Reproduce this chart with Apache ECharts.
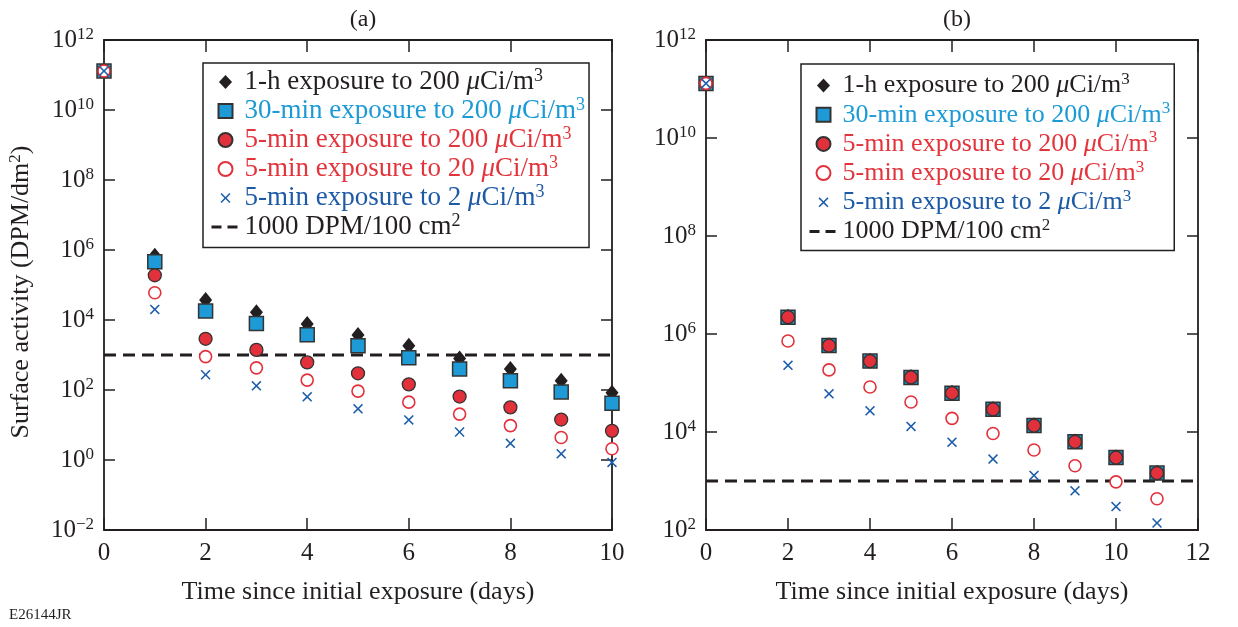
<!DOCTYPE html>
<html>
<head>
<meta charset="utf-8">
<script src="https://cdn.jsdelivr.net/npm/echarts@6/dist/echarts.min.js"></script>
<style>
  html, body { margin: 0; padding: 0; background: #fff; }
  #chart { width: 1238px; height: 627px; }
</style>
</head>
<body>
<div id="chart"></div>
<script>
// ---- data ----------------------------------------------------------------
// (a) days 0..10
const daysA = [0, 1, 2, 3, 4, 5, 6, 7, 8, 9, 10];
const a1h200   = [1.3e11, 6.8e5, 3.7e4, 1.66e4, 7.7e3, 3.7e3, 1.85e3, 800, 400, 185, 83];
const a30m200  = [1.3e11, 4.6e5, 1.8e4, 7.9e3, 3.8e3, 1.85e3, 840, 400, 185, 88, 42];
const a5m200   = [1.3e11, 1.9e5, 2.9e3, 1.4e3, 615, 300, 145, 65, 32, 14.3, 6.8];
const a5m20    = [1.3e11, 6.0e4, 900, 430, 192, 93, 45, 20.5, 9.6, 4.4, 2.1];
const a5m2     = [1.3e11, 2.0e4, 273, 132, 64, 29, 14, 6.3, 3.0, 1.5, 0.85];
const limitA   = [[0, 1000], [10, 1000]];

// (b) days 0, 2..11
const daysB = [0, 2, 3, 4, 5, 6, 7, 8, 9, 10, 11];
const b1h200   = [1.3e11, 2.25e6, 5.9e5, 2.85e5, 1.32e5, 6.3e4, 2.95e4, 1.37e4, 6.4e3, 3.05e3, 1.48e3];
const b30m200  = [1.3e11, 2.2e6, 5.8e5, 2.8e5, 1.3e5, 6.2e4, 2.9e4, 1.35e4, 6.3e3, 3.0e3, 1.45e3];
const b5m200   = [1.3e11, 2.2e6, 5.8e5, 2.8e5, 1.3e5, 6.2e4, 2.9e4, 1.35e4, 6.3e3, 3.0e3, 1.45e3];
const b5m20    = [1.3e11, 7.2e5, 1.85e5, 8.3e4, 4.1e4, 1.9e4, 9.3e3, 4.3e3, 2.05e3, 960, 435];
const b5m2     = [1.3e11, 2.3e5, 6.0e4, 2.7e4, 1.3e4, 6.2e3, 2.8e3, 1.3e3, 630, 300, 139];
const limitB   = [[0, 1000], [12, 1000]];

const names = [
  '1-h exposure to 200 μCi/m3',
  '30-min exposure to 200 μCi/m3',
  '5-min exposure to 200 μCi/m3',
  '5-min exposure to 20 μCi/m3',
  '5-min exposure to 2 μCi/m3',
  '1000 DPM/100 cm2'
];
const legendRich = [
  '{t|1-h exposure to 200 }{mu|μ}{t|Ci/m}{sup|3}',
  '{t|30-min exposure to 200 }{mu|μ}{t|Ci/m}{sup|3}',
  '{t|5-min exposure to 200 }{mu|μ}{t|Ci/m}{sup|3}',
  '{t|5-min exposure to 20 }{mu|μ}{t|Ci/m}{sup|3}',
  '{t|5-min exposure to 2 }{mu|μ}{t|Ci/m}{sup|3}',
  '{t|1000 DPM/100 cm}{sup|2}'
];
const legendColors = ['#231f20', '#1b9ad6', '#e3343c', '#e3343c', '#1c5aa6', '#231f20'];

// ---- styling -------------------------------------------------------------
const FONT = 'Liberation Serif';
const INK = '#231f20';
const CROSS = 'path://M0,1.1L1.1,0L5,3.9L8.9,0L10,1.1L6.1,5L10,8.9L8.9,10L5,6.1L1.1,10L0,8.9L3.9,5Z';

const markers = [
  { symbol: 'diamond', symbolSize: [13, 16], itemStyle: { color: INK, opacity: 1 } },
  { symbol: 'rect', symbolSize: 14, itemStyle: { color: '#1e9bd7', borderColor: '#333', borderWidth: 1.5, opacity: 1 } },
  { symbol: 'circle', symbolSize: 13, itemStyle: { color: '#e3313b', borderColor: '#333', borderWidth: 1.3, opacity: 1 } },
  { symbol: 'circle', symbolSize: 12, itemStyle: { color: '#fff', borderColor: '#e3313b', borderWidth: 1.6, opacity: 1 } },
  { symbol: CROSS, symbolSize: 10, itemStyle: { color: '#1d5eab', opacity: 1 } }
];

// legend icons: paths keep their aspect inside the 28x14 icon box
const legendIcons = [
  'path://M7,0L14,7.5L7,15L0,7.5Z',
  'path://M0,0L10,0L10,10L0,10Z',
  'circle',
  'circle',
  'path://M-2,-2M12,12M0,1.1L1.1,0L5,3.9L8.9,0L10,1.1L6.1,5L10,8.9L8.9,10L5,6.1L1.1,10L0,8.9L3.9,5Z',
  null
];

const pts = (days, vals) => days.map((d, i) => [d, vals[i]]);

function scatter(idx, grid, days, vals) {
  return Object.assign({
    name: names[idx],
    type: 'scatter',
    xAxisIndex: grid * 2,
    yAxisIndex: grid * 2,
    data: pts(days, vals),
    clip: false,
    silent: true,
    emphasis: { disabled: true },
    z: 3 + idx
  }, markers[idx]);
}

function limitLine(grid, data) {
  return {
    name: names[5],
    type: 'line',
    xAxisIndex: grid * 2,
    yAxisIndex: grid * 2,
    data: data,
    symbol: 'none',
    silent: true,
    z: 2,
    itemStyle: { color: 'rgba(0,0,0,0)', borderWidth: 0 },
    lineStyle: { color: INK, width: 3, type: [12, 7] }
  };
}

function supLabel(v) {
  const e = Math.round(Math.log10(v));
  return '{b|10}{e|' + (e < 0 ? '\u2212' + (-e) : e) + '}';
}

const yRich = {
  b: { fontFamily: FONT, fontSize: 25, lineHeight: 28, color: INK },
  e: { fontFamily: FONT, fontSize: 17, lineHeight: 18, verticalAlign: 'top', color: INK }
};

function xAxes(grid, max) {
  const common = {
    type: 'value', gridIndex: grid, min: 0, max: max, interval: 2,
    axisLine: { show: true, onZero: false, lineStyle: { color: INK, width: 1.8 } },
    axisTick: { show: true, inside: true, length: 12, lineStyle: { color: INK, width: 1.5 } },
    splitLine: { show: false }
  };
  return [
    Object.assign({}, common, {
      position: 'bottom',
      axisLabel: { color: INK, fontFamily: FONT, fontSize: 25, margin: 11 },
      name: 'Time since initial exposure (days)',
      nameLocation: 'middle',
      nameGap: 49,
      nameTextStyle: { color: INK, fontFamily: FONT, fontSize: 26 }
    }),
    Object.assign({}, common, { position: 'top', axisLabel: { show: false } })
  ];
}

function yAxes(grid, min, withName) {
  const common = {
    type: 'log', logBase: 10, gridIndex: grid, min: min, max: 1e12, interval: 2,
    axisLine: { show: true, onZero: false, lineStyle: { color: INK, width: 1.8 } },
    axisTick: { show: true, inside: true, length: 11, lineStyle: { color: INK, width: 1.5 } },
    minorTick: { show: false },
    splitLine: { show: false }
  };
  const left = Object.assign({}, common, {
    position: 'left',
    axisLabel: { formatter: supLabel, margin: 10, rich: yRich }
  });
  if (withName) {
    Object.assign(left, {
      name: '{t|Surface activity (DPM/dm}{s|2}{t|)}',
      nameLocation: 'middle',
      nameGap: 69,
      nameTextStyle: {
        padding: [0, 14, 0, 0],
        rich: {
          t: { fontFamily: FONT, fontSize: 26, lineHeight: 28, color: INK },
          s: { fontFamily: FONT, fontSize: 17, lineHeight: 18, verticalAlign: 'top', color: INK }
        }
      }
    });
  }
  return [left, Object.assign({}, common, { position: 'right', axisLabel: { show: false } })];
}

function legend(left, top, fontSize, rowH, gap, pad) {
  return {
    orient: 'vertical',
    left: left,
    top: top,
    itemWidth: 28,
    itemHeight: 14,
    itemGap: gap,
    symbolKeepAspect: true,
    selectedMode: false,
    backgroundColor: '#fff',
    borderColor: INK,
    borderWidth: 1.5,
    padding: pad,
    data: names.map((n, i) => {
      const item = { name: n, textStyle: { color: legendColors[i] } };
      if (legendIcons[i]) item.icon = legendIcons[i];
      if (i === 5) {
        item.itemStyle = { color: 'rgba(0,0,0,0)', borderWidth: 0 };
        item.lineStyle = { color: INK, width: 3, type: [10, 6] };
      }
      return item;
    }),
    formatter: n => legendRich[names.indexOf(n)],
    textStyle: {
      rich: {
        t: { fontFamily: FONT, fontSize: fontSize, lineHeight: rowH },
        mu: { fontFamily: FONT, fontSize: fontSize, lineHeight: rowH, fontStyle: 'italic' },
        sup: { fontFamily: FONT, fontSize: Math.round(fontSize * 0.67), lineHeight: 18, verticalAlign: 'top' }
      }
    }
  };
}

const chart = echarts.init(document.getElementById('chart'), null, { renderer: 'canvas' });

chart.setOption({
  backgroundColor: '#fff',
  animation: false,
  title: [
    { text: '(a)', left: 358, top: 3, textAlign: 'center',
      textStyle: { fontFamily: FONT, fontSize: 24, fontWeight: 'normal', color: INK } },
    { text: '(b)', left: 952, top: 3, textAlign: 'center',
      textStyle: { fontFamily: FONT, fontSize: 24, fontWeight: 'normal', color: INK } },
    { text: 'E26144JR', left: 4, top: 603,
      textStyle: { fontFamily: FONT, fontSize: 15, fontWeight: 'normal', color: INK } }
  ],
  grid: [
    { left: 104, top: 40, width: 508, height: 490 },
    { left: 706, top: 40, width: 492, height: 490 }
  ],
  xAxis: [].concat(xAxes(0, 10), xAxes(1, 12)),
  yAxis: [].concat(yAxes(0, 1e-2, true), yAxes(1, 1e2, false)),
  legend: [
    legend(203, 63, 27, 30, 0.5, [4, 4, 7, 7]),
    legend(801, 64, 26, 29, 1.7, [7, 4, 6, 7])
  ],
  series: [
    limitLine(0, limitA),
    scatter(0, 0, daysA, a1h200),
    scatter(1, 0, daysA, a30m200),
    scatter(2, 0, daysA, a5m200),
    scatter(3, 0, daysA, a5m20),
    scatter(4, 0, daysA, a5m2),
    limitLine(1, limitB),
    scatter(0, 1, daysB, b1h200),
    scatter(1, 1, daysB, b30m200),
    scatter(2, 1, daysB, b5m200),
    scatter(3, 1, daysB, b5m20),
    scatter(4, 1, daysB, b5m2)
  ]
});

window.addEventListener('resize', () => chart.resize());
</script>
</body>
</html>
